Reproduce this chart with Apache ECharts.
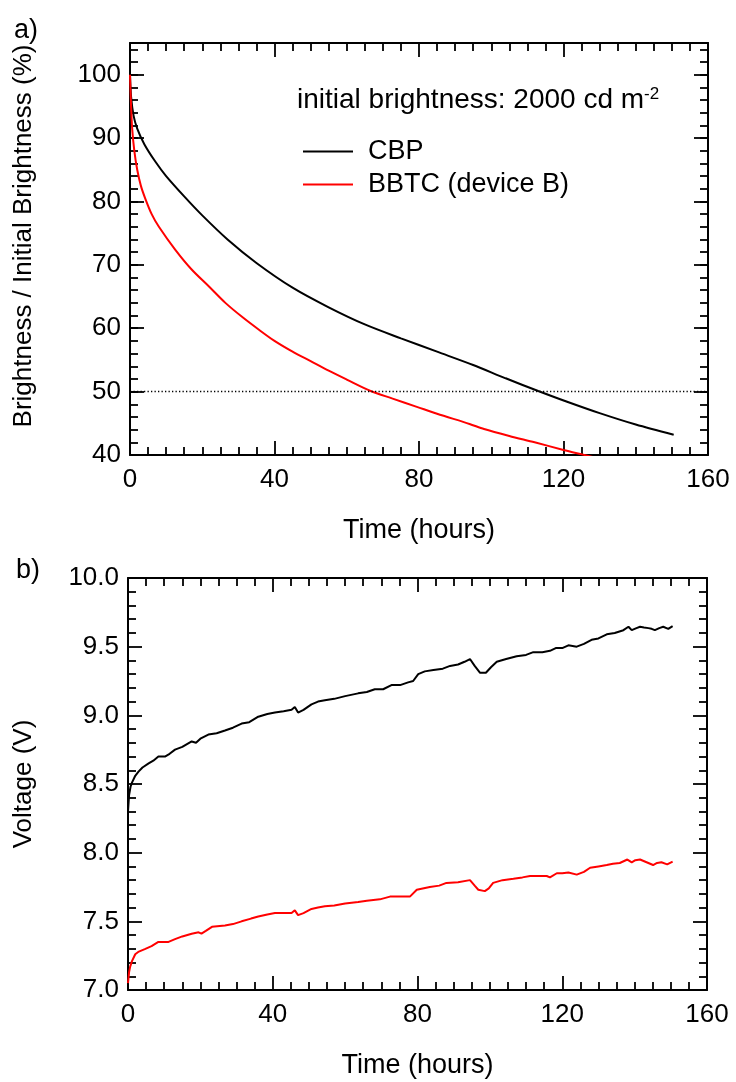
<!DOCTYPE html>
<html>
<head>
<meta charset="utf-8">
<script src="https://cdn.jsdelivr.net/npm/echarts@6/dist/echarts.min.js"></script>
<style>
    html, body { margin: 0; padding: 0; background: #fff; }
    #chart { width: 736px; height: 1082px; }
</style>
</head>
<body>
<div id="chart"></div>
<script>
// Panel a) brightness decay
const cbpTime = [0, 0.3, 1, 2, 4, 7, 10, 15, 20, 27, 35, 45, 55, 65, 75, 85, 95, 104, 113, 121, 130, 140, 150.5];
const cbpBrightness = [100, 96.5, 93.5, 91.5, 89, 86.3, 84, 80.8, 77.8, 74, 70.3, 66.4, 63.3, 60.6, 58.4, 56.3, 54.2, 52.1, 50.1, 48.4, 46.6, 44.8, 43.2];

const bbtcTime = [0, 0.3, 0.6, 1.2, 2, 3, 4.2, 6, 8, 12.5, 17, 22, 26.4, 31, 35.6, 40, 45, 50, 55, 60, 66.6, 72.7, 79.4, 85, 94, 98, 105, 112, 120, 126.6, 130];
const bbtcBrightness = [100, 95, 91.5, 88, 85, 82.5, 80.5, 78, 76, 72.4, 69.3, 66.5, 64, 61.8, 59.8, 58, 56.3, 54.8, 53.3, 51.9, 50.1, 48.9, 47.6, 46.5, 44.9, 44.1, 43, 42, 40.8, 39.9, 39.4];

// Panel b) drive voltage
const cbpVoltTime = [0, 0.3, 0.7, 1.1, 2, 2.9, 4, 5.7, 7, 8.4, 10.2, 11.5, 13, 15, 17.6, 18.8, 20, 22.2, 24.5, 26.8, 29, 31.4, 33.5, 36, 38.5, 40.6, 43, 45.2, 46.1, 47, 48.5, 50.7, 52.5, 54.4, 57, 60, 63.6, 66, 68.2, 70.5, 72.8, 75.2, 77.4, 78.8, 80.2, 82, 84.4, 87, 89, 91.2, 93, 94.5, 95.8, 97.3, 98.9, 100.3, 101.9, 104.5, 107.4, 110, 112, 114.5, 116.6, 118.2, 120, 121.7, 124, 126, 128.1, 130, 132.3, 134.5, 136.9, 138.3, 139.2, 140.5, 141.5, 142.6, 143.8, 144.7, 145.6, 146.8, 147.9, 149.3, 150.5];
const cbpVoltage = [8.30, 8.42, 8.48, 8.51, 8.56, 8.59, 8.62, 8.65, 8.67, 8.70, 8.70, 8.72, 8.75, 8.77, 8.81, 8.80, 8.83, 8.86, 8.87, 8.89, 8.91, 8.94, 8.95, 8.99, 9.01, 9.02, 9.03, 9.04, 9.06, 9.02, 9.04, 9.08, 9.10, 9.11, 9.12, 9.14, 9.16, 9.17, 9.19, 9.19, 9.22, 9.22, 9.24, 9.25, 9.30, 9.32, 9.33, 9.34, 9.36, 9.37, 9.39, 9.41, 9.36, 9.31, 9.31, 9.35, 9.39, 9.41, 9.43, 9.44, 9.46, 9.46, 9.47, 9.49, 9.49, 9.51, 9.50, 9.52, 9.55, 9.56, 9.59, 9.60, 9.62, 9.645, 9.62, 9.635, 9.645, 9.64, 9.635, 9.63, 9.62, 9.635, 9.645, 9.63, 9.65];

const bbtcVoltTime = [0, 0.3, 0.6, 1.1, 2, 3, 4.8, 6.5, 8.4, 10, 11.2, 13, 15, 17.6, 19.5, 20.3, 21.5, 23.2, 26.8, 29, 31.4, 34, 36, 38.5, 40.6, 43, 45.2, 46.1, 47, 48.5, 50.7, 52.5, 54.4, 57, 60, 63.6, 66, 69.6, 72.4, 75, 77.9, 79.8, 83.4, 86, 88, 91.2, 94.5, 95.8, 96.8, 98.6, 99.7, 100.9, 103.5, 106.5, 109, 111.1, 113.5, 115.7, 116.6, 118.5, 120, 121.7, 124, 126, 127.7, 130, 132.3, 134, 135.9, 138, 139.2, 140.2, 141.5, 143.3, 145.1, 146.2, 147.4, 149, 150.5];
const bbtcVoltage = [7.05, 7.13, 7.17, 7.21, 7.26, 7.28, 7.30, 7.32, 7.35, 7.35, 7.35, 7.37, 7.39, 7.41, 7.42, 7.41, 7.43, 7.46, 7.47, 7.48, 7.50, 7.52, 7.535, 7.55, 7.56, 7.56, 7.56, 7.58, 7.545, 7.56, 7.59, 7.60, 7.61, 7.615, 7.63, 7.64, 7.65, 7.66, 7.68, 7.68, 7.68, 7.73, 7.75, 7.76, 7.78, 7.785, 7.80, 7.76, 7.73, 7.72, 7.74, 7.78, 7.80, 7.81, 7.82, 7.83, 7.83, 7.83, 7.82, 7.85, 7.85, 7.855, 7.84, 7.86, 7.89, 7.90, 7.91, 7.92, 7.925, 7.95, 7.93, 7.945, 7.95, 7.93, 7.91, 7.925, 7.93, 7.915, 7.935];

const seriesNames = ["CBP", "BBTC (device B)"];
const timeTicks = [0, 40, 80, 120, 160];

const FONT = "'Liberation Sans', Arial, sans-serif";
const zip = (xs, ys) => xs.map((x, i) => [x, ys[i]]);

// shared axis look: black frame, ticks pointing in
function frameAxis(extra) {
    const base = {
        type: "value",
        splitLine: { show: false },
        axisLine: { show: true, onZero: false, lineStyle: { color: "#000", width: 2 } },
        axisTick: { show: true, inside: true, length: 14, lineStyle: { color: "#000", width: 1.8 } },
        minorTick: { show: false },
        axisLabel: { show: false },
    };
    return Object.assign(base, extra);
}
const minorTicks = (n) => ({ show: true, splitNumber: n, length: 8, lineStyle: { color: "#000", width: 1.8 } });
const shortTicks = { show: true, inside: true, length: 8, lineStyle: { color: "#000", width: 1.8 } };
// onZero must stay off or the tick-only axis jumps to x = 0
const noLine = { show: false, onZero: false };

const tickFont = { color: "#000", fontSize: 26, fontFamily: FONT };
const titleFont = { color: "#000", fontSize: 27, fontFamily: FONT };

const timeAxis = (grid, position, withLabel) => frameAxis({
    gridIndex: grid,
    position: position,
    min: timeTicks[0],
    max: timeTicks[timeTicks.length - 1],
    interval: 40,
    minorTick: minorTicks(8),
    axisLabel: withLabel ? Object.assign({ show: true, margin: 12 }, tickFont) : { show: false },
    name: withLabel ? "Time (hours)" : "",
    nameLocation: "middle",
    nameGap: 62,
    nameTextStyle: titleFont,
});

const chart = echarts.init(document.getElementById("chart"), null, { renderer: "canvas" });

chart.setOption({
    animation: false,
    backgroundColor: "#fff",
    textStyle: { fontFamily: FONT },
    grid: [
        { left: 130, top: 43, width: 578, height: 412, outerBoundsMode: "none" },
        { left: 128, top: 578, width: 579, height: 412, outerBoundsMode: "none" },
    ],
    xAxis: [
        timeAxis(0, "bottom", true),
        timeAxis(0, "top", false),
        timeAxis(1, "bottom", true),
        timeAxis(1, "top", false),
    ],
    yAxis: [
        // top panel: labelled majors every 10, a second axis carries the 2-unit minors
        frameAxis({
            gridIndex: 0, position: "left", min: 40, max: 105, interval: 10,
            axisLabel: Object.assign({ show: true, margin: 9,
                formatter: (v) => (v % 10 === 0 ? String(v) : "") }, tickFont),
        }),
        frameAxis({ gridIndex: 0, position: "left", min: 40, max: 105, interval: 2,
            axisLine: noLine, axisTick: shortTicks }),
        frameAxis({ gridIndex: 0, position: "right", min: 40, max: 105, interval: 10 }),
        frameAxis({ gridIndex: 0, position: "right", min: 40, max: 105, interval: 2,
            axisLine: noLine, axisTick: shortTicks }),
        // bottom panel
        frameAxis({
            gridIndex: 1, position: "left", min: 7, max: 10, interval: 0.5,
            minorTick: minorTicks(5),
            axisLabel: Object.assign({ show: true, margin: 9, formatter: (v) => v.toFixed(1) }, tickFont),
        }),
        frameAxis({ gridIndex: 1, position: "right", min: 7, max: 10, interval: 0.5, minorTick: minorTicks(5) }),
    ],
    legend: {
        data: seriesNames,
        orient: "vertical",
        left: 303,
        top: 138,
        padding: 0,
        itemGap: 6,
        itemWidth: 50,
        itemHeight: 2,
        icon: "rect",
        selectedMode: false,
        textStyle: { color: "#000", fontSize: 27, fontFamily: FONT, lineHeight: 27, padding: [0, 0, 0, 10] },
    },
    graphic: [
        { type: "text", left: 14, top: 17, style: { text: "a)", fill: "#000", font: "27px " + FONT } },
        { type: "text", left: 16, top: 557, style: { text: "b)", fill: "#000", font: "27px " + FONT } },
        { type: "text", x: 24, y: 236, rotation: Math.PI / 2,
          style: { text: "Brightness / Initial Brightness (%)", fill: "#000", font: "26px " + FONT,
                   align: "center", verticalAlign: "middle" } },
        { type: "text", x: 24, y: 784, rotation: Math.PI / 2,
          style: { text: "Voltage (V)", fill: "#000", font: "26px " + FONT,
                   align: "center", verticalAlign: "middle" } },
        { type: "text", x: 297, y: 100,
          style: {
              text: "{m|initial brightness: 2000 cd m}{s|-2}",
              verticalAlign: "middle",
              rich: {
                  m: { fontSize: 28, fontFamily: FONT, lineHeight: 28, fill: "#000" },
                  s: { fontSize: 17, fontFamily: FONT, lineHeight: 17, verticalAlign: "top", fill: "#000" },
              },
          } },
    ],
    series: [
        {
            name: seriesNames[0], type: "line", xAxisIndex: 0, yAxisIndex: 0,
            data: zip(cbpTime, cbpBrightness), showSymbol: false, smooth: 0.3,
            lineStyle: { color: "#000", width: 2 }, itemStyle: { color: "#000" },
            markLine: {
                silent: true, symbol: "none", label: { show: false },
                lineStyle: { color: "#000", width: 1.3, type: [1.3, 2.2] },
                data: [{ yAxis: 50 }],
            },
        },
        {
            name: seriesNames[1], type: "line", xAxisIndex: 0, yAxisIndex: 0,
            data: zip(bbtcTime, bbtcBrightness), showSymbol: false, smooth: 0.3,
            lineStyle: { color: "#ff0000", width: 2 }, itemStyle: { color: "#ff0000" },
        },
        {
            name: seriesNames[0], type: "line", xAxisIndex: 2, yAxisIndex: 4,
            data: zip(cbpVoltTime, cbpVoltage), showSymbol: false,
            lineStyle: { color: "#000", width: 2 }, itemStyle: { color: "#000" },
        },
        {
            name: seriesNames[1], type: "line", xAxisIndex: 2, yAxisIndex: 4,
            data: zip(bbtcVoltTime, bbtcVoltage), showSymbol: false,
            lineStyle: { color: "#ff0000", width: 2 }, itemStyle: { color: "#ff0000" },
        },
    ],
});
</script>
</body>
</html>
